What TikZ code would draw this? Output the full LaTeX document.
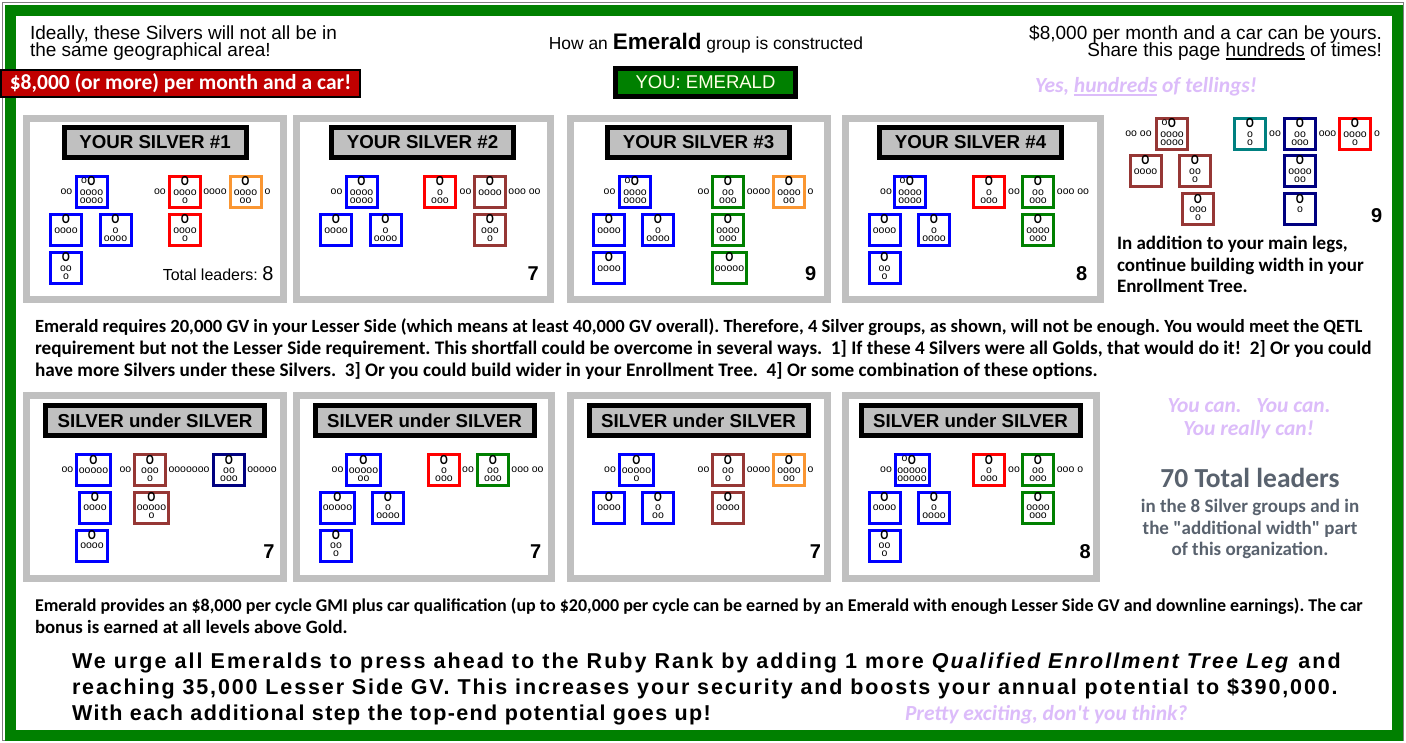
\documentclass[tikz,border=0pt]{standalone}
\usepackage{fontspec}
\setmainfont{Liberation Sans}
\newfontfamily\calib{Carlito}
\newfontfamily\narrowsans[FakeStretch=0.8]{Liberation Sans}
% tracked sans for the closing statement, one per line
\newfontfamily\wideA[LetterSpace=9.5]{Liberation Sans}
\newfontfamily\wideB[LetterSpace=8.7]{Liberation Sans}
\newfontfamily\wideC[LetterSpace=6.5]{Liberation Sans}
\frenchspacing

\definecolor{framegreen}{RGB}{0,128,0}
\definecolor{panelgray}{RGB}{192,192,192}
\definecolor{redfill}{RGB}{192,0,0}
\definecolor{youtext}{RGB}{255,255,230}
\definecolor{lav}{RGB}{220,188,250}
\definecolor{slate}{RGB}{89,98,110}
\definecolor{bxblue}{RGB}{0,0,255}
\definecolor{bxred}{RGB}{255,0,0}
\definecolor{bxorange}{RGB}{250,150,50}
\definecolor{bxgreen}{RGB}{0,128,0}
\definecolor{bxbrown}{RGB}{150,55,53}
\definecolor{bxnavy}{RGB}{0,0,128}
\definecolor{bxteal}{RGB}{0,128,128}

% fonts used inside the leader boxes
\newcommand\smofont{\normalfont\fontsize{10.5}{10.5}\selectfont}
\newcommand\bigofont{\narrowsans\bfseries\fontsize{13}{13}\selectfont}
% big O with a small o to its left
\newcommand\oO{\llap{\raisebox{2.5pt}{\smofont o}\kern0.6pt}O}
% thick underline
\newcommand\undl[1]{\setbox0\hbox{#1}\rlap{\rule[-2.6pt]{\wd0}{1.2pt}}\box0\relax}

\tikzset{
  txt/.style={inner sep=0pt, outer sep=0pt},
  arialtxt/.style={txt, font=\fontsize{19}{22}\selectfont},
  calbold/.style={txt, font=\calib\bfseries\fontsize{19}{23}\selectfont},
  calb/.style={txt, anchor=base west, font=\calib\bfseries\fontsize{#1}{23}\selectfont},
  lavtxt/.style={txt, text=lav, font=\calib\bfseries\itshape\fontsize{21.5}{25}\selectfont},
  slatetxt/.style={calbold, text=slate},
  bigtxt/.style={txt, anchor=base west, font=#1\bfseries\fontsize{21.5}{26}\selectfont},
  panel/.style={draw=panelgray, line width=7pt, fill=white},
  ttlbox/.style={draw=black, line width=5pt, fill=panelgray, minimum height=30pt,
    inner sep=0pt, font=\bfseries\fontsize{18.7}{20}\selectfont},
  ttltop/.style={ttlbox, minimum width=182pt},
  ttlbot/.style={ttlbox, minimum width=219pt},
  ldrbox/.style={line width=3pt, minimum width=31pt, minimum height=31pt, inner sep=0pt},
  bigo/.style={txt, font=\bigofont, anchor=base},
  smo/.style={txt, font=\smofont},
  cnt/.style={txt, anchor=base, font=\bfseries\fontsize{20}{20}\selectfont},
}

% one leader box: name, colour (plus options), x, y, top line, row 1, row 2
\newcommand\ldr[7]{%
  \node[ldrbox, draw=#2] (#1) at (#3,#4) {};
  \node[bigo] (#1-t) at (#3,#4-6) {#5};
  \node[smo] (#1-a) at (#3,#4+0.5) {#6};
  \node[smo] (#1-b) at (#3,#4+8.5) {#7};
}
% a run of small o's between boxes
\newcommand\chn[4]{\node[smo] (#1) at (#2,#3) {#4};}

\begin{document}
\frenchspacing
\begin{tikzpicture}[x=1pt,y=-1pt]
\useasboundingbox (0,0) rectangle (1406,743);
\fill[white] (0,0) rectangle (1406,743);

% outer frame
\draw[gray, line width=1.2pt] (2.5,2.5) rectangle (1403.5,740.5);
\draw[framegreen, line width=11pt] (10.5,11) rectangle (1397,735.5);

% headline texts
\node[arialtxt, anchor=base west] (idl1) at (30,40) {Ideally, these Silvers will not all be in};
\node[arialtxt, anchor=base west] (idl2) at (30,57) {the same geographical area!};
\node[txt, anchor=base, font=\fontsize{17.4}{17}\selectfont] (how) at (706,50)
  {How an {\bfseries\fontsize{22.5}{22}\selectfont Emerald} group is constructed};
\node[arialtxt, anchor=base east] (pay1) at (1382,40) {\$8,000 per month and a car can be yours.};
\node[arialtxt, anchor=base east] (pay2) at (1382,57) {Share this page \undl{hundreds} of times!};

\node[draw=black, line width=2pt, fill=redfill, minimum width=359pt, minimum height=27pt,
  inner sep=0pt, text=white, font=\calib\bfseries\fontsize{21.5}{22}\selectfont] (car) at (180.5,83.5)
  {\$8,000 (or more) per month and a car!};
\node[draw=black, line width=5pt, fill=framegreen, minimum width=180pt, minimum height=28pt,
  inner sep=0pt, text=youtext, font=\fontsize{18.5}{19}\selectfont] (you) at (705.5,82.5) {YOU: EMERALD};
\node[lavtxt, anchor=base west] (yes) at (1035,93) {Yes, \undl{hundreds} of tellings!};

% panel frames
\draw[panel] (26.5,118.5) rectangle (283.5,299.5);
\draw[panel] (296.5,118.5) rectangle (550.5,299.5);
\draw[panel] (570.5,118.5) rectangle (827.5,299.5);
\draw[panel] (845.5,118.5) rectangle (1100.5,299.5);
\draw[panel] (26.5,395.5) rectangle (283.5,578.5);
\draw[panel] (296.5,395.5) rectangle (551.5,578.5);
\draw[panel] (570.5,395.5) rectangle (827.5,578.5);
\draw[panel] (845.5,395.5) rectangle (1096.5,578.5);

% panel titles
\node[ttltop] (t1) at (155,142.5) {YOUR SILVER \#1};
\node[ttltop] (t2) at (422.5,142.5) {YOUR SILVER \#2};
\node[ttltop] (t3) at (698.5,142.5) {YOUR SILVER \#3};
\node[ttltop] (t4) at (970.5,142.5) {YOUR SILVER \#4};
\node[ttlbot] (b1) at (155,420.5) {SILVER under SILVER};
\node[ttlbot] (b2) at (424.5,420.5) {SILVER under SILVER};
\node[ttlbot] (b3) at (698.5,420.5) {SILVER under SILVER};
\node[ttlbot] (b4) at (970.5,420.5) {SILVER under SILVER};

% ---- Silver #1
\ldr{sa1}{bxblue}{91.5}{192}{\oO}{oooo}{oooo}
\ldr{sb1}{bxblue}{66}{230}{O}{oooo}{}
\ldr{sc1}{bxblue}{115.5}{230}{O}{o}{oooo}
\ldr{sd1}{bxblue}{66}{268}{O}{oo}{o}
\ldr{se1}{bxred}{185}{192}{O}{oooo}{o}
\ldr{sf1}{bxorange}{245.5}{192}{O}{oooo}{oo}
\ldr{sg1}{bxred}{185}{230}{O}{oooo}{o}
\chn{c1a}{66.5}{192}{oo}
\chn{c1b}{160}{192}{oo}
\chn{c1c}{215}{192}{oooo}
\chn{c1d}{267.5}{192}{o}
\node[txt, anchor=base east, font=\fontsize{16}{16}\selectfont] (n1) at (273.5,281)
  {Total leaders: {\fontsize{20}{20}\selectfont 8}};

% ---- Silver #2
\ldr{sa2}{bxblue}{361.5}{192}{O}{oooo}{oooo}
\ldr{sb2}{bxblue}{336}{230}{O}{oooo}{}
\ldr{sc2}{bxblue}{385.5}{230}{O}{o}{oooo}
\ldr{se2}{bxred}{440}{192}{O}{o}{ooo}
\ldr{sf2}{bxbrown}{490}{192}{O}{oooo}{}
\ldr{sg2}{bxbrown}{490}{230}{O}{ooo}{o}
\chn{c2a}{336.5}{192}{oo}
\chn{c2b}{465.5}{192}{oo}
\chn{c2c}{524.5}{192}{ooo oo}
\node[cnt] (n2) at (533.3,281) {7};

% ---- Silver #3
\ldr{sa3}{bxblue}{635}{192}{\oO}{oooo}{oooo}
\ldr{sb3}{bxblue}{609}{230}{O}{oooo}{}
\ldr{sc3}{bxblue}{658}{230}{O}{o}{oooo}
\ldr{sd3}{bxblue}{609}{268}{O}{oooo}{}
\ldr{se3}{bxgreen}{728}{192}{O}{oo}{ooo}
\ldr{sf3}{bxorange}{789}{192}{O}{oooo}{oo}
\ldr{sg3}{bxgreen}{728}{230}{O}{oooo}{ooo}
\ldr{sh3}{bxgreen,minimum width=34pt}{729.5}{268}{O}{ooooo}{}
\chn{c3a}{609.5}{192}{oo}
\chn{c3b}{703.5}{192}{oo}
\chn{c3c}{758.5}{192}{oooo}
\chn{c3d}{810.5}{192}{o}
\node[cnt] (n3) at (810.7,281) {9};

% ---- Silver #4
\ldr{sa4}{bxblue}{910}{192}{\oO}{oooo}{oooo}
\ldr{sb4}{bxblue}{884.5}{230}{O}{oooo}{}
\ldr{sc4}{bxblue}{934}{230}{O}{o}{oooo}
\ldr{sd4}{bxblue}{884.5}{268}{O}{oo}{o}
\ldr{se4}{bxred}{989}{192}{O}{o}{ooo}
\ldr{sf4}{bxgreen}{1038}{192}{O}{oo}{ooo}
\ldr{sg4}{bxgreen}{1038}{230}{O}{oooo}{ooo}
\chn{c4a}{886}{192}{oo}
\chn{c4b}{1014}{192}{oo}
\chn{c4c}{1073}{192}{ooo oo}
\node[cnt] (n4) at (1081.7,281) {8};

% ---- additional width in the Enrollment Tree
\ldr{wa}{bxbrown}{1172}{134}{\oO}{oooo}{oooo}
\ldr{wb}{bxbrown}{1145.5}{171}{O}{oooo}{}
\ldr{wc}{bxbrown}{1195}{171}{O}{oo}{o}
\ldr{wd}{bxbrown}{1198}{209.5}{O}{ooo}{o}
\ldr{we}{bxteal}{1250}{134}{O}{o}{o}
\ldr{wf}{bxnavy}{1300}{134}{O}{oo}{ooo}
\ldr{wg}{bxred}{1355}{134}{O}{oooo}{o}
\ldr{wh}{bxnavy}{1300}{171}{O}{oooo}{oo}
\ldr{wi}{bxnavy}{1300}{209.5}{O}{o}{}
\chn{cwa}{1138.5}{134}{oo oo}
\chn{cwb}{1275}{134}{oo}
\chn{cwc}{1327.5}{134}{ooo}
\chn{cwd}{1377}{134}{o}
\node[cnt] (nw) at (1376.7,223) {9};
\node[calbold, anchor=base west] (add1) at (1117,250) {In addition to your main legs,};
\node[calbold, anchor=base west] (add2) at (1117,272) {continue building width in your};
\node[calbold, anchor=base west] (add3) at (1117,293) {Enrollment Tree.};

% ---- explanation
\node[calb=18.6] (p1) at (35,332.5) {Emerald requires 20,000 GV in your Lesser Side (which means at least 40,000 GV overall). Therefore, 4 Silver groups, as shown, will not be enough. You would meet the QETL};
\node[calb=19.2] (p2) at (35,354.5) {requirement but not the Lesser Side requirement. This shortfall could be overcome in several ways.\ \ 1] If these 4 Silvers were all Golds, that would do it!\ \ 2] Or you could};
\node[calb=19.2] (p3) at (35,376.5) {have more Silvers under these Silvers.\ \ 3] Or you could build wider in your Enrollment Tree.\ \ 4] Or some combination of these options.};

% ---- Silver under Silver 1
\ldr{ua1}{bxblue,minimum width=34pt}{93.5}{470}{O}{ooooo}{}
\ldr{ub1}{bxbrown}{150}{470}{O}{ooo}{o}
\ldr{uc1}{bxnavy}{229}{470}{O}{oo}{ooo}
\ldr{ud1}{bxblue}{95}{507.5}{O}{oooo}{}
\ldr{ue1}{bxbrown,minimum width=34pt}{151.5}{507.5}{O}{ooooo}{o}
\ldr{uf1}{bxblue}{92}{545.5}{O}{oooo}{}
\chn{d1a}{67.5}{470}{oo}
\chn{d1b}{125.5}{470}{oo}
\chn{d1c}{189}{470}{ooooooo}
\chn{d1d}{262}{470}{ooooo}
\node[cnt] (m1) at (269,558) {7};

% ---- Silver under Silver 2
\ldr{ua2}{bxblue,minimum width=34pt}{363.5}{470}{O}{ooooo}{oo}
\ldr{ub2}{bxblue,minimum width=34pt}{337.5}{507.5}{O}{ooooo}{}
\ldr{uc2}{bxblue}{388}{507.5}{O}{o}{oooo}
\ldr{ud2}{bxblue}{336}{545.5}{O}{oo}{o}
\ldr{ue2}{bxred}{444}{470}{O}{o}{ooo}
\ldr{uf2}{bxgreen}{493}{470}{O}{oo}{ooo}
\chn{d2a}{337.5}{470}{oo}
\chn{d2b}{468}{470}{oo}
\chn{d2c}{527.5}{470}{ooo oo}
\node[cnt] (m2) at (535.8,558) {7};

% ---- Silver under Silver 3
\ldr{ua3}{bxblue,minimum width=34pt}{636.5}{470}{O}{ooooo}{o}
\ldr{ub3}{bxblue}{609}{507.5}{O}{oooo}{}
\ldr{uc3}{bxblue}{658}{507.5}{O}{o}{oo}
\ldr{ue3}{bxbrown}{728}{470}{O}{oo}{o}
\ldr{uf3}{bxorange}{789}{470}{O}{oooo}{oo}
\ldr{ug3}{bxbrown}{728}{507.5}{O}{oooo}{}
\chn{d3a}{610}{470}{oo}
\chn{d3b}{703.5}{470}{oo}
\chn{d3c}{758.5}{470}{oooo}
\chn{d3d}{810.5}{470}{o}
\node[cnt] (m3) at (815.5,558) {7};

% ---- Silver under Silver 4
\ldr{ua4}{bxblue,minimum width=34pt}{912}{470}{\oO}{ooooo}{ooooo}
\ldr{ub4}{bxblue}{884.5}{507.5}{O}{oooo}{}
\ldr{uc4}{bxblue}{934}{507.5}{O}{o}{oooo}
\ldr{ud4}{bxblue}{884.5}{545.5}{O}{oo}{o}
\ldr{ue4}{bxred}{989}{470}{O}{o}{ooo}
\ldr{uf4}{bxgreen}{1038}{470}{O}{oo}{ooo}
\ldr{ug4}{bxgreen}{1038}{507.5}{O}{oooo}{ooo}
\chn{d4a}{886}{470}{oo}
\chn{d4b}{1014}{470}{oo}
\chn{d4c}{1070}{470}{ooo o}
\node[cnt] (m4) at (1085.3,558) {8};

% ---- right column
\node[lavtxt, anchor=base] (can1) at (1249,412) {You can.\ \ \ You can.};
\node[lavtxt, anchor=base] (can2) at (1248.5,435) {You really can!};
\node[slatetxt, anchor=base, font=\calib\bfseries\fontsize{27.5}{27}\selectfont] (tot) at (1250,487) {70 Total leaders};
\node[slatetxt, anchor=base] (tot1) at (1250,512.5) {in the 8 Silver groups and in};
\node[slatetxt, anchor=base] (tot2) at (1250,534) {the "additional width" part};
\node[slatetxt, anchor=base] (tot3) at (1250,555.5) {of this organization.};

% ---- closing texts
\node[calb=18.0] (q1) at (35,611) {Emerald provides an \$8,000 per cycle GMI plus car qualification (up to \$20,000 per cycle can be earned by an Emerald with enough Lesser Side GV and downline earnings). The car};
\node[calb=18.8] (q2) at (35,633) {bonus is earned at all levels above Gold.};
\node[bigtxt=\wideA] (r1) at (72,668) {We urge all Emeralds to press ahead to the Ruby Rank by adding 1 more \textit{Qualified Enrollment Tree Leg} and};
\node[bigtxt=\wideB] (r2) at (72,694) {reaching 35,000 Lesser Side GV. This increases your security and boosts your annual potential to \$390,000.};
\node[bigtxt=\wideC] (r3) at (72,720) {With each additional step the top-end potential goes up!};
\node[lavtxt, anchor=base west] (pr) at (905,720) {Pretty exciting, don't you think?};
\end{tikzpicture}
\end{document}
